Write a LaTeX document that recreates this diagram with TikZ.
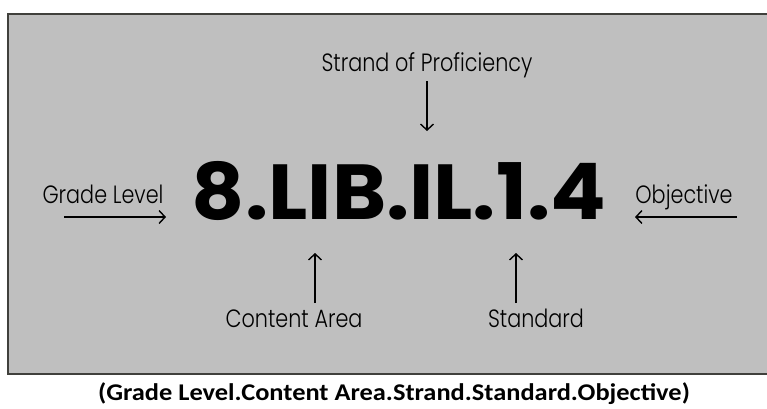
\documentclass[tikz,border=0pt]{standalone}
\usepackage{fontspec}
\usetikzlibrary{arrows.meta}
\newfontfamily\thinfont{Poppins Light}
\newfontfamily\codefont{Poppins}
\newfontfamily\capfont{Carlito}
\definecolor{panelgray}{RGB}{191,191,191}
\definecolor{rimgray}{RGB}{64,64,60}
\newcommand{\narrow}[1]{\scalebox{0.83}[1]{#1}}
\begin{document}
\begin{tikzpicture}[x=1pt,y=-1pt,
  pointer/.style={-{Straight Barb[length=6pt,width=13pt]},line width=1.4pt},
  tag/.style={font=\thinfont\fontsize{25}{25}\selectfont,inner sep=0pt,anchor=base}]
\useasboundingbox (0,0) rectangle (767,408);
% grey panel
\fill[panelgray] (8,14) rectangle (767,374);
\draw[rimgray,line width=2pt] (767,14) -- (8,14) -- (8,374) -- (767,374);
% the code itself
\node[inner sep=0pt,font=\codefont\bfseries\fontsize{78}{78}\selectfont] (code) at (399,191) {\scalebox{1.055}[1]{8.LIB.IL.1.4}};
% labels
\node[tag] (strand) at (427,71) {\narrow{Strand of Proficiency}};
\node[tag] (grade) at (103,203) {\narrow{Grade Level}};
\node[tag] (objective) at (684,203) {\narrow{Objective}};
\node[tag] (content) at (294,327) {\narrow{Content Area}};
\node[tag] (standard) at (536,327) {\narrow{Standard}};
% arrow ends
\coordinate (strandfrom) at (427,81);  \coordinate (strandto) at (427,131);
\coordinate (gradefrom) at (64,217);   \coordinate (gradeto) at (166,217);
\coordinate (objfrom) at (737,217);    \coordinate (objto) at (635,217);
\coordinate (contentfrom) at (315,303); \coordinate (contentto) at (315,253);
\coordinate (standardfrom) at (516,303); \coordinate (standardto) at (516,253);
\draw[pointer] (strandfrom) -- (strandto);
\draw[pointer] (gradefrom) -- (gradeto);
\draw[pointer] (objfrom) -- (objto);
\draw[pointer] (contentfrom) -- (contentto);
\draw[pointer] (standardfrom) -- (standardto);
% caption under the panel
\node[inner sep=0pt,anchor=base,font=\capfont\bfseries\fontsize{24}{24}\selectfont] (caption) at (394,400) {\scalebox{1.1}[1]{(Grade Level.Content Area.Strand.Standard.Objective)}};
\end{tikzpicture}
\end{document}
